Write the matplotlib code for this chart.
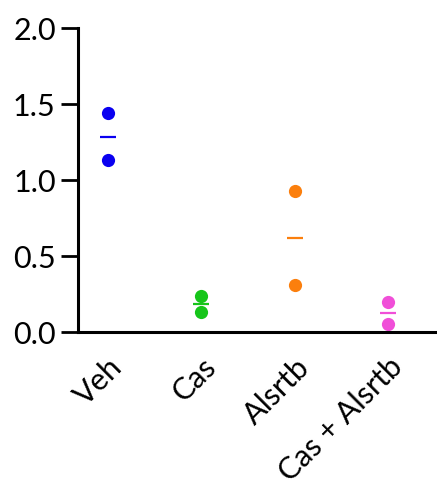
import matplotlib
matplotlib.use("Agg")
import matplotlib.pyplot as plt
import numpy as np

plt.rcParams['font.family'] = ['Lato', 'DejaVu Sans']

categories = ["Veh", "Cas", "Alsrtb", "Cas + Alsrtb"]
values = [[1.44, 1.13], [0.235, 0.13], [0.925, 0.31], [0.195, 0.05]]
colors = ["#0a00f0", "#16c51a", "#fb7f0d", "#f04fd8"]
yticks = [0.0, 0.5, 1.0, 1.5, 2.0]

fig = plt.figure(figsize=(4.37, 4.9), dpi=100)
ax = fig.add_axes([78/437, 1-332/490, 1-78/437, (332-28)/490])

for i, (vals, c) in enumerate(zip(values, colors)):
    ax.plot([i]*len(vals), vals, 'o', color=c, markersize=9.5, markeredgewidth=0, clip_on=False)
    m = np.mean(vals)
    ax.plot([i-0.085, i+0.085], [m, m], '-', color=c, lw=1.6, solid_capstyle='butt')

ax.set_xlim(-0.32, 3.52)
ax.set_ylim(0, 2.0)
ax.set_yticks(yticks)
ax.set_yticklabels([f"{t:.1f}" for t in yticks], fontsize=22)
ax.set_xticks(range(len(categories)))
ax.set_xticklabels(categories, fontsize=22, rotation=45, ha='right', va='top', rotation_mode='anchor')
ax.tick_params(axis='x', length=0, pad=15)
ax.tick_params(axis='y', length=12, width=2, pad=4)
for s in ['top', 'right']:
    ax.spines[s].set_visible(False)
for s in ['left', 'bottom']:
    ax.spines[s].set_linewidth(2.2)

fig.savefig("out.png", dpi=100)
